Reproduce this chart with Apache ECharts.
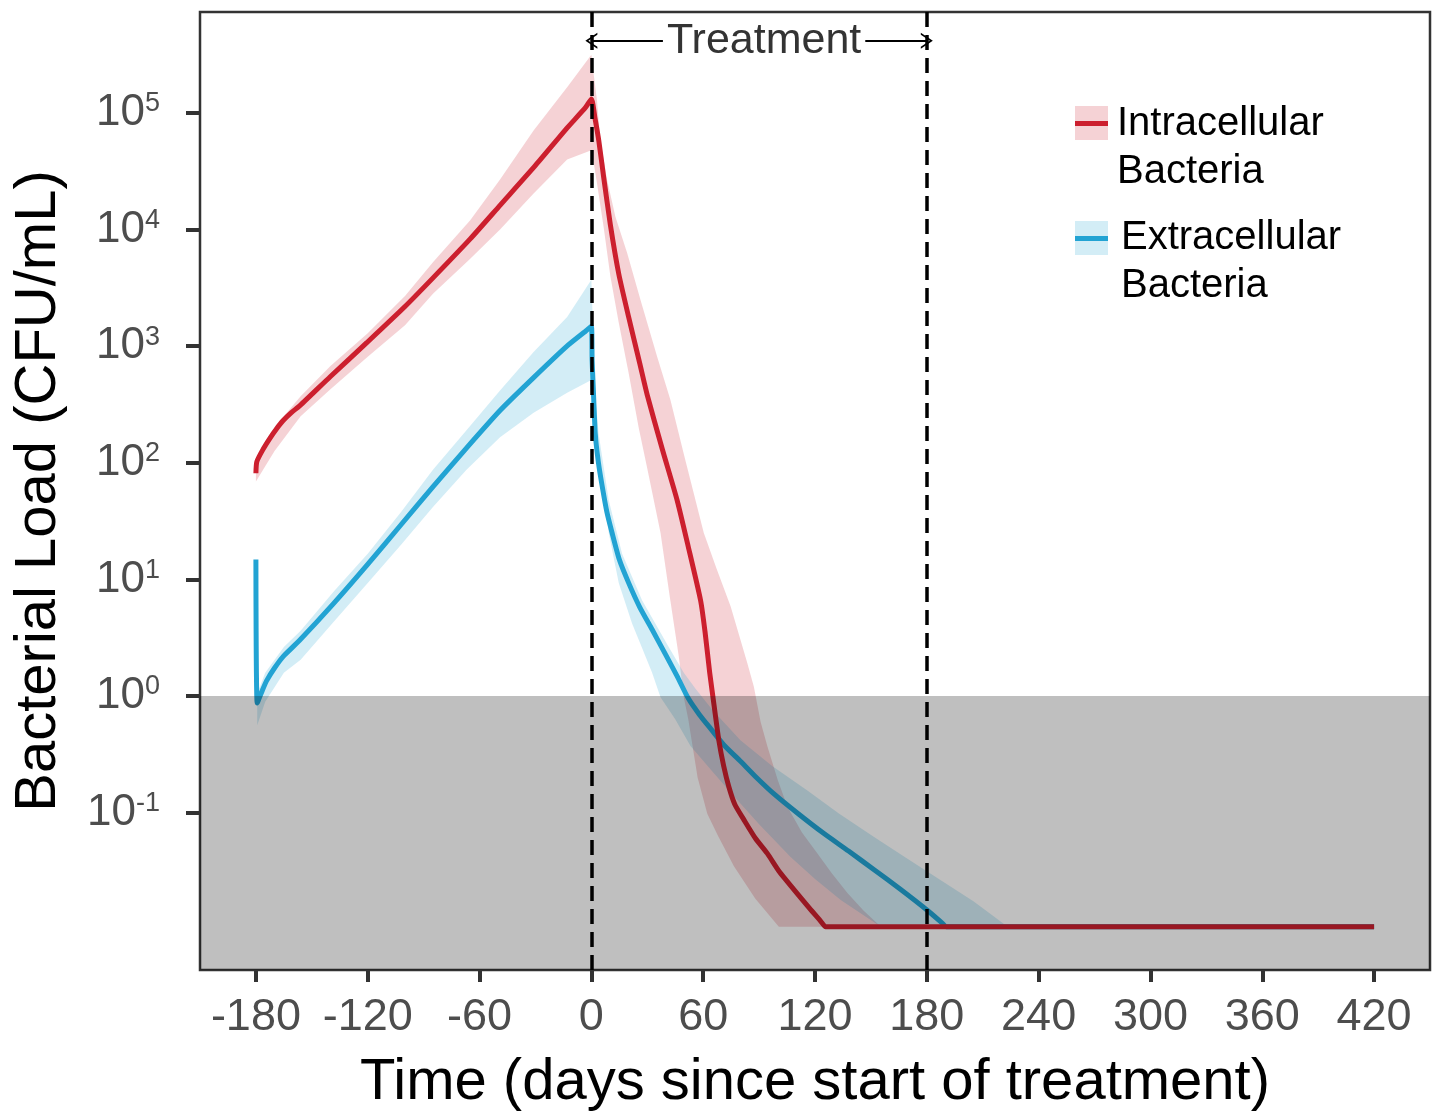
<!DOCTYPE html>
<html>
<head>
<meta charset="utf-8">
<script src="https://cdn.jsdelivr.net/npm/echarts@6/dist/echarts.min.js"></script>
<style>
  html, body { margin: 0; padding: 0; background: #fff; }
  #chart { width: 1435px; height: 1112px; }
</style>
</head>
<body>
<div id="chart"></div>
<script>
// ---- Data (days since start of treatment, log10 CFU/mL) ----
const xTicks = [-180, -120, -60, 0, 60, 120, 180, 240, 300, 360, 420];
const yTicks = [-1, 0, 1, 2, 3, 4, 5];
const treatmentStart = 0;
const treatmentEnd = 180;
const shadeTop = 0;          // log10(1) : shaded region below 10^0
const treatmentLabelY = 5.62;

const intraLine = [
  [-180, 1.91], [-179.5, 2.01], [-176, 2.12], [-172.5, 2.21], [-169, 2.29], [-165.5, 2.36],
  [-161, 2.43], [-156.4, 2.49], [-140, 2.74], [-120.5, 3.03], [-100, 3.34], [-84.7, 3.59],
  [-65, 3.92], [-48.9, 4.21], [-30, 4.55], [-13.1, 4.87], [-3, 5.05], [0, 5.12],
  [2, 4.95], [4, 4.76], [6.6, 4.45], [10.2, 4.04], [14.7, 3.62], [20, 3.25], [26, 2.85],
  [30, 2.58], [38, 2.12], [46, 1.68], [52, 1.28], [58.6, 0.82], [61, 0.55], [63.5, 0.2],
  [66, -0.1], [68.4, -0.38], [71, -0.6], [73.8, -0.78], [77, -0.93], [81.8, -1.06],
  [88, -1.22], [94.4, -1.35], [101, -1.51], [108.7, -1.66], [117, -1.82], [123, -1.93],
  [125.7, -1.98], [130, -1.98], [420, -1.98]
];
const intraUpper = [
  [-180, 1.97], [-175, 2.18], [-170, 2.30], [-165, 2.40], [-156, 2.57], [-140, 2.83],
  [-120, 3.11], [-100, 3.43], [-85, 3.72], [-65, 4.08], [-49, 4.43], [-31, 4.85],
  [-13, 5.22], [0, 5.50], [1.5, 5.30], [3, 5.11], [4.8, 4.77], [8.4, 4.43], [12.9, 4.11],
  [19.2, 3.80], [26.3, 3.40], [35.3, 2.91], [42.4, 2.54], [50, 2.05], [60.3, 1.40],
  [67, 1.10], [74.7, 0.77], [83.7, 0.28], [87.2, 0.08], [90.8, -0.22], [94.4, -0.43],
  [100, -0.72], [105.2, -0.95], [113, -1.17], [121.3, -1.35], [129, -1.52], [137.4, -1.69],
  [146, -1.84], [155.3, -1.98]
];
const intraLower = [
  [-180, 1.84], [-170, 2.10], [-156, 2.40], [-140, 2.63], [-120, 2.91], [-100, 3.18],
  [-85, 3.45], [-65, 3.75], [-49, 4.00], [-31, 4.31], [-13, 4.60], [0, 4.68], [1.5, 4.55],
  [3, 4.40], [6.6, 4.02], [10.2, 3.60], [14.7, 3.20], [20, 2.77], [25.4, 2.30], [30, 1.95],
  [37.1, 1.40], [42, 0.86], [46.9, 0.34], [49.6, -0.01], [52, -0.2], [54.3, -0.43],
  [57, -0.7], [62.2, -1.01], [68, -1.20], [76.5, -1.46], [88, -1.74], [100.6, -1.98]
];

const extraLine = [
  [-180, 1.17], [-179.3, -0.06], [-176.5, 0.05], [-174.3, 0.13], [-170, 0.24], [-165.3, 0.34],
  [-156.4, 0.48], [-138.5, 0.79], [-120.5, 1.12], [-102.6, 1.46], [-84.7, 1.80],
  [-66.8, 2.13], [-48.9, 2.45], [-31, 2.73], [-13.1, 3.00], [-3, 3.13], [0, 3.17],
  [0.4, 2.88], [1, 2.65], [2.1, 2.25], [3.8, 2.0], [5.8, 1.80], [8.3, 1.58], [11.1, 1.40],
  [15, 1.17], [20, 0.97], [26, 0.76], [32.6, 0.57], [40, 0.35], [46, 0.17], [52, -0.02],
  [58, -0.16], [64, -0.28], [71.1, -0.42], [80, -0.56], [88, -0.69], [98, -0.84],
  [111, -1.01], [124.8, -1.18], [138, -1.33], [151.7, -1.49], [166, -1.66], [180.4, -1.84],
  [188.4, -1.95], [190.5, -1.98], [194, -1.98], [420, -1.98]
];
const extraUpper = [
  [-179.3, 0.02], [-175, 0.2], [-165, 0.42], [-156, 0.56], [-138, 0.90], [-120, 1.22],
  [-102, 1.58], [-85, 1.94], [-67, 2.28], [-49, 2.62], [-31, 2.95], [-13, 3.25], [0, 3.57],
  [1, 3.10], [1.5, 2.70], [3.9, 2.25], [9.3, 1.68], [16.5, 1.22], [27.2, 0.82], [41.5, 0.42],
  [49.6, 0.20], [56, 0.06], [65, -0.12], [80, -0.38], [97, -0.60], [115.9, -0.81],
  [133, -1.01], [151.7, -1.21], [169, -1.39], [187.5, -1.58], [205, -1.76], [223.4, -1.98]
];
const extraLower = [
  [-179.3, -0.25], [-175, -0.05], [-165, 0.2], [-156, 0.31], [-138, 0.64], [-120, 0.97],
  [-102, 1.30], [-85, 1.62], [-67, 1.94], [-49, 2.22], [-31, 2.43], [-13, 2.60], [0, 2.71],
  [1, 2.6], [2.5, 2.4], [4.8, 2.02], [9.3, 1.40], [14.7, 0.97], [21.9, 0.62], [27, 0.42],
  [32.6, 0.20], [37.1, -0.01], [45, -0.2], [53.2, -0.43], [64, -0.63], [76.5, -0.86],
  [90, -1.1], [106.9, -1.38], [120, -1.57], [133.8, -1.75], [155.3, -1.98]
];

// ---- Chart ----
const FONT = '"Liberation Sans", Arial, Helvetica, sans-serif';
const RED = '#cc1f2e', BLUE = '#22a3d3';
const RED_BAND = 'rgba(204,31,46,0.2)', BLUE_BAND = 'rgba(34,163,211,0.2)';
const X_MIN = -210, X_MAX = 450, Y_MIN = -2.35, Y_MAX = 5.866;

function bandSeries(name, upper, lower, color) {
  const pts = upper.concat(lower.slice().reverse());
  return {
    name: name, type: 'custom', silent: true, z: 1, clip: true,
    encode: { x: 0, y: 1 },
    data: pts,
    renderItem: function (params, api) {
      if (params.dataIndex !== 0) return null;
      return {
        type: 'polygon',
        shape: { points: pts.map(function (p) { return api.coord(p); }), smooth: 0 },
        style: { fill: color, stroke: null }
      };
    }
  };
}

const chart = echarts.init(document.getElementById('chart'), null, { renderer: 'canvas' });
const option = {
  animation: false,
  backgroundColor: '#ffffff',
  textStyle: { fontFamily: FONT },
  grid: { left: 200, right: 5, top: 12, bottom: 142, outerBoundsMode: 'none', containLabel: false,
          show: true, borderColor: '#333', borderWidth: 2.5, backgroundColor: 'transparent' },
  xAxis: {
    type: 'value', min: X_MIN, max: X_MAX,
    name: 'Time (days since start of treatment)',
    nameLocation: 'middle', nameGap: 84,
    nameTextStyle: { fontSize: 58, color: '#000', fontFamily: FONT },
    axisLine: { show: false, onZero: false },
    splitLine: { show: false },
    axisTick: { show: true, customValues: xTicks, length: 12, inside: false, lineStyle: { color: '#333', width: 4 } },
    axisLabel: { customValues: xTicks, fontSize: 45, color: '#4d4d4d', margin: 25, fontFamily: FONT }
  },
  yAxis: {
    type: 'value', min: Y_MIN, max: Y_MAX,
    name: 'Bacterial Load (CFU/mL)',
    nameLocation: 'middle', nameGap: 132,
    nameTextStyle: { fontSize: 58, color: '#000', fontFamily: FONT },
    axisLine: { show: false, onZero: false },
    splitLine: { show: false },
    axisTick: { show: true, customValues: yTicks, length: 14, lineStyle: { color: '#333', width: 4 } },
    axisLabel: {
      customValues: yTicks, margin: 40, color: '#4d4d4d', fontFamily: FONT,
      formatter: function (v) { return '{b|10}{s|' + v + '}'; },
      rich: {
        b: { fontSize: 44, color: '#4d4d4d', fontFamily: FONT },
        s: { fontSize: 27, color: '#4d4d4d', fontFamily: FONT, padding: [0, 0, 18, 0] }
      }
    }
  },
  series: [
    bandSeries('intraBand', intraUpper, intraLower, RED_BAND),
    bandSeries('extraBand', extraUpper, extraLower, BLUE_BAND),
    {
      name: 'Extracellular Bacteria', type: 'line', data: extraLine, showSymbol: false, symbol: 'none',
      smooth: 0.2,
      z: 2, lineStyle: { color: BLUE, width: 5, join: 'round' }, silent: true
    },
    {
      name: 'Intracellular Bacteria', type: 'line', data: intraLine, showSymbol: false, symbol: 'none',
      smooth: 0.2,
      z: 3, lineStyle: { color: RED, width: 5, join: 'round' }, silent: true
    },
    {
      name: 'shade', type: 'custom', silent: true, z: 4, clip: true,
      encode: { x: 0, y: 1 },
      data: [[X_MIN, shadeTop]],
      renderItem: function (params, api) {
        const p0 = api.coord([X_MIN, shadeTop]);
        const p1 = api.coord([X_MAX, Y_MIN]);
        return { type: 'rect', shape: { x: p0[0], y: p0[1], width: p1[0] - p0[0], height: p1[1] - p0[1] },
                 style: { fill: 'rgba(0,0,0,0.25)' } };
      }
    },
    {
      name: 'treatment', type: 'line', data: [], z: 5, silent: true,
      markLine: {
        silent: true, animation: false,
        symbol: ['none', 'none'],
        label: { show: false },
        lineStyle: { color: '#000', width: 3.5, type: [15, 8] },
        data: [{ xAxis: treatmentStart }, { xAxis: treatmentEnd }]
      }
    },
    {
      name: 'treatmentArrow', type: 'line', data: [], z: 6, silent: true,
      markLine: {
        silent: true, animation: false,
        symbol: ['path://M0,14 L8,0 L16,14 L14,14 L8,3.5 L2,14 Z', 'path://M0,14 L8,0 L16,14 L14,14 L8,3.5 L2,14 Z'],
        symbolSize: [16, 12],
        lineStyle: { color: '#000', width: 2, type: 'solid' },
        label: {
          show: true, position: 'middle', formatter: 'Treatment', fontSize: 43, color: '#333',
          fontFamily: FONT, backgroundColor: '#fff', padding: [0, 4, 0, 4], distance: 0,
          verticalAlign: 'middle', offset: [5, 0]
        },
        data: [[{ coord: [treatmentStart, treatmentLabelY] }, { coord: [treatmentEnd, treatmentLabelY] }]]
      }
    }
  ],
  graphic: [
    { type: 'rect', left: 1075, top: 106, shape: { width: 33, height: 34 }, style: { fill: RED_BAND } },
    { type: 'rect', left: 1075, top: 121, shape: { width: 33, height: 5 }, style: { fill: RED } },
    { type: 'text', left: 1117, top: 100, style: { text: 'Intracellular\nBacteria', font: '40px ' + FONT, fill: '#000', lineHeight: 48 } },
    { type: 'rect', left: 1075, top: 221, shape: { width: 33, height: 34 }, style: { fill: BLUE_BAND } },
    { type: 'rect', left: 1075, top: 236, shape: { width: 33, height: 5 }, style: { fill: BLUE } },
    { type: 'text', left: 1121, top: 214, style: { text: 'Extracellular\nBacteria', font: '40px ' + FONT, fill: '#000', lineHeight: 48 } }
  ]
};
chart.setOption(option);
</script>
</body>
</html>
